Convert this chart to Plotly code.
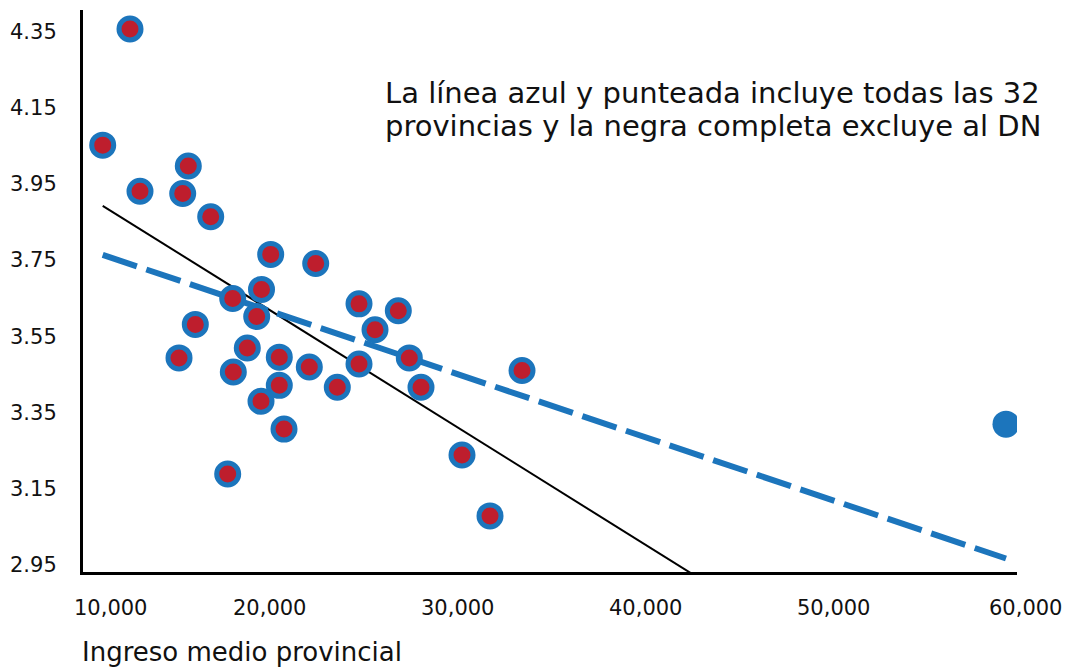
import numpy as np
import plotly.graph_objects as go

# ---- data ----
ingreso = [12616, 11166, 13147, 15713, 15416, 16903, 20090, 19602, 22481, 18072,
           19347, 16085, 15219, 18847, 18104, 20547, 20547, 19575, 20797, 22141,
           23628, 24781, 26869, 25631, 24781, 27453, 28074, 17806, 30252, 31740,
           33440]
valor = [4.358, 4.053, 3.932, 3.998, 3.926, 3.865, 3.766, 3.674, 3.742, 3.650,
         3.603, 3.582, 3.494, 3.520, 3.457, 3.496, 3.422, 3.380, 3.307, 3.470,
         3.417, 3.636, 3.618, 3.568, 3.478, 3.494, 3.417, 3.189, 3.239, 3.079,
         3.461]
dn_ingreso = [59150]
dn_valor = [3.320]

x_tick_vals = [10000, 20000, 30000, 40000, 50000, 60000]
x_tick_text = ["10,000", "20,000", "30,000", "40,000", "50,000", "60,000"]
y_tick_vals = [4.35, 4.15, 3.95, 3.75, 3.55, 3.35, 3.15, 2.95]
y_tick_text = ["4.35", "4.15", "3.95", "3.75", "3.55", "3.35", "3.15", "2.95"]

x_title = "Ingreso medio provincial"
note_lines = ["La línea azul y punteada incluye todas las 32",
              "provincias y la negra completa excluye al DN"]

X_RANGE = [10119, 59735]
Y_RANGE = [2.9316, 4.408]

# ---- fits ----
all_x = np.array(ingreso + dn_ingreso, dtype=float)
all_y = np.array(valor + dn_valor, dtype=float)
m_all, b_all = np.polyfit(all_x, all_y, 1)
m_sin, b_sin = np.polyfit(np.array(ingreso, float), np.array(valor, float), 1)
xl = np.array([all_x.min(), all_x.max()])

BLUE = "#1c75bc"
RED = "#be1e2d"
FONT = "DejaVu Sans"
TXT = "#111111"

fig = go.Figure()
fig.add_trace(go.Scatter(x=xl, y=m_sin * xl + b_sin, mode="lines",
                         line=dict(color="black", width=2), hoverinfo="skip"))
fig.add_trace(go.Scatter(x=xl, y=m_all * xl + b_all, mode="lines",
                         line=dict(color=BLUE, width=6, dash="36px,10px"), hoverinfo="skip"))
fig.add_trace(go.Scatter(x=ingreso, y=valor, mode="markers",
                         marker=dict(size=22, color=RED, line=dict(color=BLUE, width=5))))
fig.add_trace(go.Scatter(x=dn_ingreso, y=dn_valor, mode="markers",
                         marker=dict(size=27, color=BLUE, line=dict(width=0))))

L, R, T, B = 83, 54, 10, 97
W, H = 1071, 669
PW, PH = W - L - R, H - T - B

ann = []
for v, t in zip(y_tick_vals, y_tick_text):
    ann.append(dict(x=0, xref="paper", xanchor="left", xshift=8 - L,
                    y=v, yref="y", yanchor="middle", text=t, showarrow=False,
                    font=dict(family=FONT, size=21, color=TXT)))
for i, (v, t) in enumerate(zip(x_tick_vals, x_tick_text)):
    px = (v - X_RANGE[0]) / (X_RANGE[1] - X_RANGE[0])
    ann.append(dict(x=px, xref="paper", xanchor="center", xshift=30 if i == 0 else 4 if i == 5 else 0,
                    y=0, yref="paper", yanchor="middle", yshift=-36, text=t,
                    showarrow=False, font=dict(family=FONT, size=21, color=TXT)))
ann.append(dict(x=0, xref="paper", xanchor="left", xshift=-3,
                y=0, yref="paper", yanchor="middle", yshift=-80, text=x_title,
                showarrow=False, font=dict(family=FONT, size=26, color=TXT)))
for k, (line, cy) in enumerate(zip(note_lines, [93, 126])):
    ann.append(dict(x=(383 - L) / PW, xref="paper", xanchor="left", align="left",
                    y=1 - (cy - T) / PH, yref="paper", yanchor="middle",
                    text=line, showarrow=False, font=dict(family=FONT, size=29, color=TXT)))

fig.update_layout(
    width=W, height=H, margin=dict(l=L, r=R, t=T, b=B),
    paper_bgcolor="white", plot_bgcolor="white", showlegend=False,
    annotations=ann,
    xaxis=dict(range=X_RANGE, showline=True, linecolor="black", linewidth=2.5,
               showgrid=False, zeroline=False, showticklabels=False, ticks=""),
    yaxis=dict(range=Y_RANGE, showline=True, linecolor="black", linewidth=2.5,
               showgrid=False, zeroline=False, showticklabels=False, ticks=""),
)

fig.write_html("out.html", config={"displayModeBar": False},
               post_script="document.body.style.margin='0';")
